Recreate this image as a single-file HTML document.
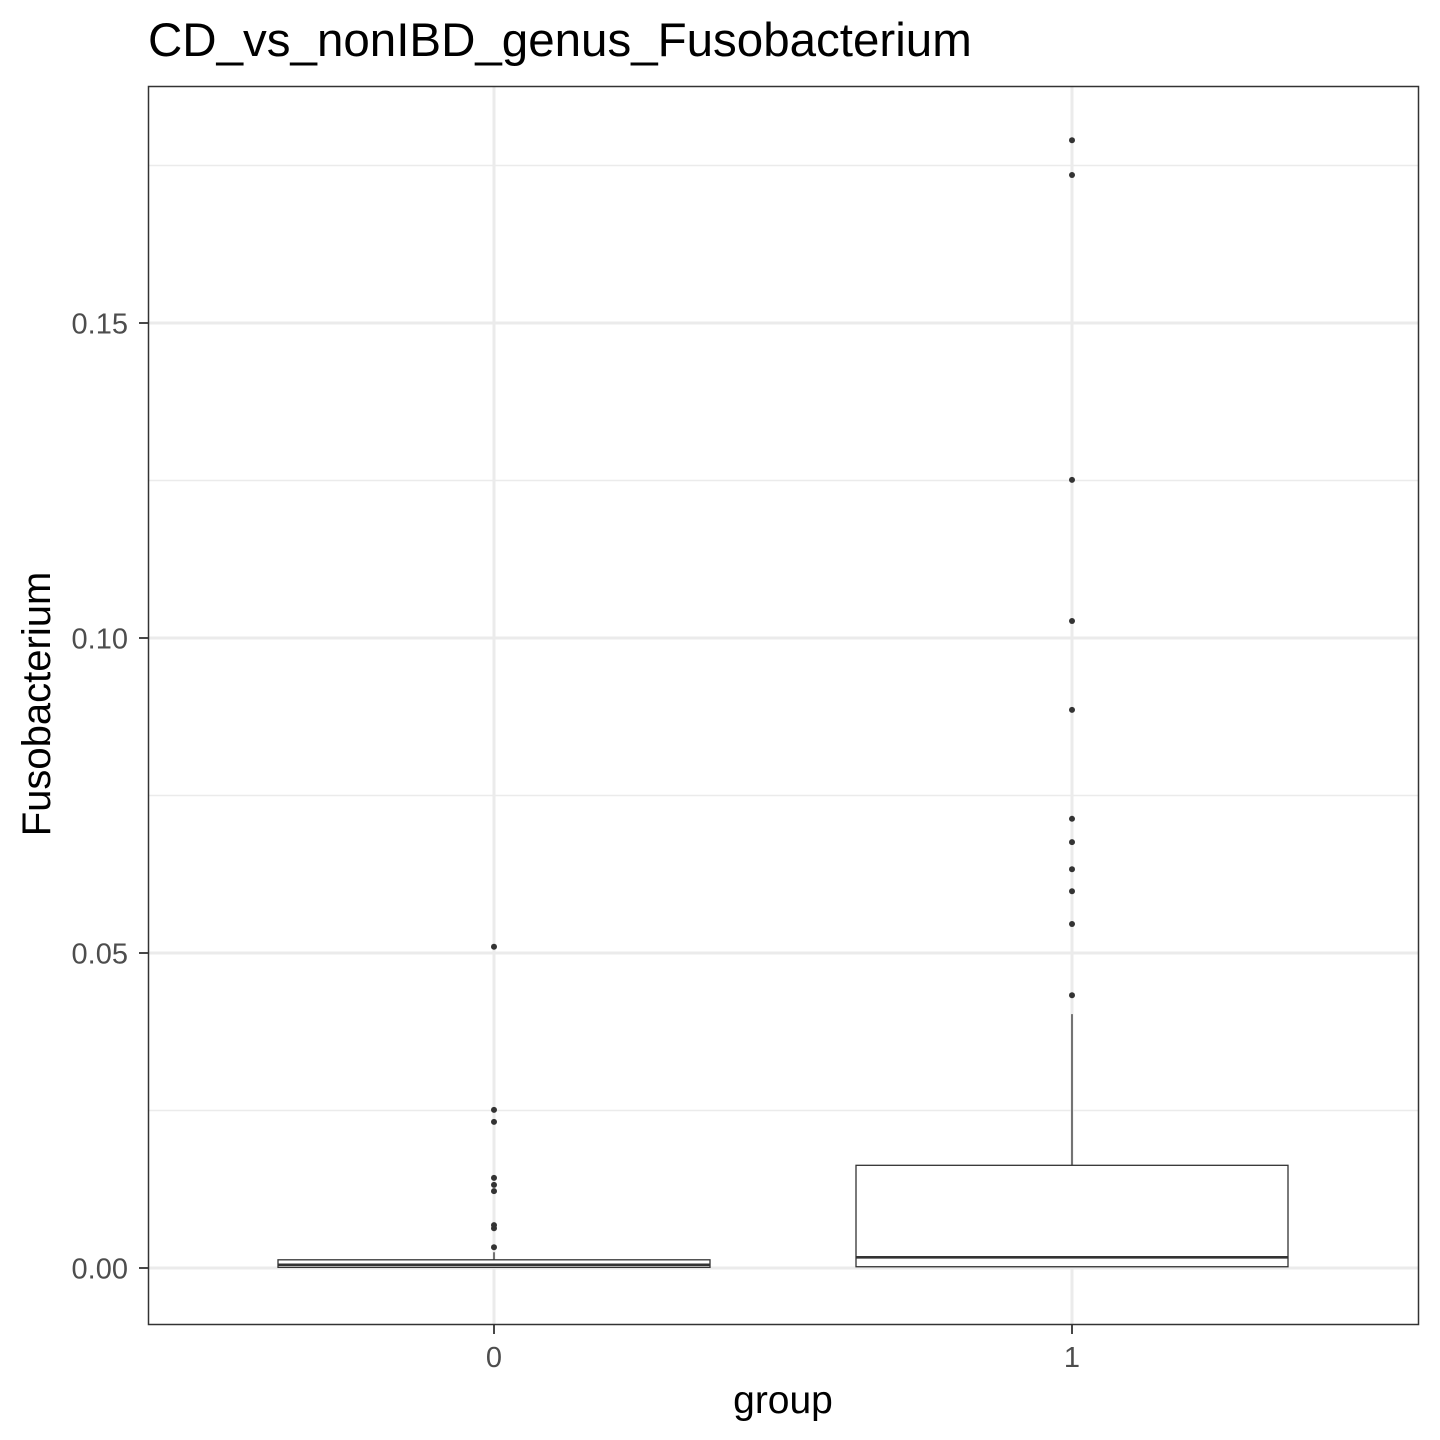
<!DOCTYPE html>
<html><head><meta charset="utf-8"><style>body{margin:0;background:#fff}svg{display:block;font-family:"Liberation Sans",Arial,sans-serif}</style></head>
<body>
<svg id="chart" width="1440" height="1440" xmlns="http://www.w3.org/2000/svg">
<text x="148" y="56" font-size="47.5" fill="#000">CD_vs_nonIBD_genus_Fusobacterium</text>
<g id="grid"></g><g id="marks"></g><g id="axes"></g>
<rect x="148.5" y="86.5" width="1270" height="1238" fill="none" stroke="#333" stroke-width="1.5"/>
<text x="783" y="1413" font-size="39" text-anchor="middle">group</text>
<text transform="translate(50,704) rotate(-90)" font-size="40" text-anchor="middle">Fusobacterium</text>
</svg>
<script>
const categories = ["0","1"];
const q1 = [0.0001, 0.0002];
const medians = [0.0005, 0.0017];
const q3 = [0.0013, 0.0163];
const whiskerLow = [0, 0];
const whiskerHigh = [0.0025, 0.0403];
const outliers0 = [0.0033,0.0063,0.0068,0.0122,0.0132,0.0143,0.0232,0.0251,0.051];
const outliers1 = [0.0433,0.0546,0.0598,0.0633,0.0676,0.0713,0.0886,0.1027,0.1251,0.1735,0.179];
const yTicks = [0,0.05,0.10,0.15];
const yTickLabels = ["0.00","0.05","0.10","0.15"];
const yMinor = [0.025,0.075,0.125,0.175];

const NS="http://www.w3.org/2000/svg";
const y = v => 1268 - v*6300;
const x = i => 494 + i*578;
const half = 216;
function mk(tag, attrs, parent){const e=document.createElementNS(NS,tag);for(const k in attrs)e.setAttribute(k,attrs[k]);document.getElementById(parent).appendChild(e);return e;}
yMinor.forEach(v=>{const e=mk('line',{x1:149,x2:1418,y1:y(v),y2:y(v),stroke:'#ebebeb','stroke-width':1.4},'grid');

});
yTicks.forEach((v,i)=>{const e=mk('line',{x1:149,x2:1418,y1:y(v),y2:y(v),stroke:'#ebebeb','stroke-width':3},'grid');


const t=mk('line',{x1:139,x2:148,y1:y(v),y2:y(v),stroke:'#333','stroke-width':1.8},'axes');


const l=mk('text',{x:128,y:y(v)+10.5,'font-size':29,'text-anchor':'end',fill:'#4d4d4d'},'axes');l.textContent=yTickLabels[i];

});
categories.forEach((c,i)=>{const e=mk('line',{x1:x(i),x2:x(i),y1:87,y2:1324,stroke:'#ebebeb','stroke-width':3},'grid');


const t=mk('line',{x1:x(i),x2:x(i),y1:1325,y2:1334,stroke:'#333','stroke-width':1.8},'axes');


const l=mk('text',{x:x(i),y:1367,'font-size':29,'text-anchor':'middle',fill:'#4d4d4d'},'axes');l.textContent=c;


const w=mk('line',{x1:x(i),x2:x(i),y1:y(whiskerHigh[i]),y2:y(q3[i]),stroke:'#333','stroke-width':1.3},'marks');


const b=mk('rect',{x:x(i)-half,y:y(q3[i]),width:half*2,height:y(q1[i])-y(q3[i]),fill:'#fff',stroke:'#333','stroke-width':1.3},'marks');


const m=mk('line',{x1:x(i)-half,x2:x(i)+half,y1:y(medians[i]),y2:y(medians[i]),stroke:'#333','stroke-width':2.6},'marks');


[outliers0,outliers1][i].forEach(v=>{const p=mk('circle',{cx:x(i),cy:y(v),r:3,fill:'#333'},'marks');

});
});
</script>
</body></html>
